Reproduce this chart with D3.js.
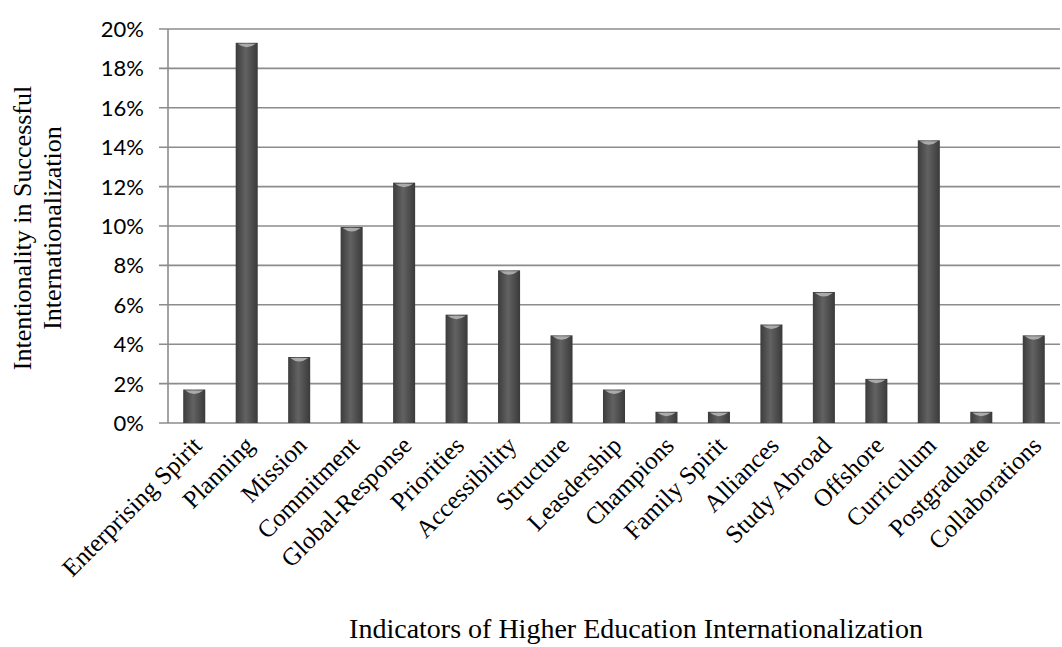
<!DOCTYPE html>
<html>
<head>
<meta charset="utf-8">
<script src="https://cdn.jsdelivr.net/npm/d3@7"></script>
<style>
  body { margin: 0; background: #fff; }
</style>
</head>
<body>
<div id="chart"></div>
<script>
// indicator names along the x axis
const indicators = ["Enterprising Spirit", "Planning", "Mission", "Commitment", "Global-Response",
    "Priorities", "Accessibility", "Structure", "Leasdership", "Champions", "Family Spirit",
    "Alliances", "Study Abroad", "Offshore", "Curriculum", "Postgraduate", "Collaborations"];
// share of intentionality, in percent
const shares = [1.7, 19.3, 3.35, 9.95, 12.2, 5.5, 7.75, 4.45, 1.7, 0.57, 0.57, 5.0, 6.65, 2.24, 14.35, 0.57, 4.45];
const yTicks = [0, 2, 4, 6, 8, 10, 12, 14, 16, 18, 20];

const W = 1062, H = 647;
const margin = { top: 29, right: 2, bottom: 224, left: 168 };
const width = W - margin.left - margin.right;
const height = H - margin.top - margin.bottom;

const svg = d3.select("#chart").append("svg")
    .attr("width", W)
    .attr("height", H);

// cylinder-ish shading for the bars
const defs = svg.append("defs");
const grad = defs.append("linearGradient").attr("id", "barGrad")
    .attr("x1", "0%").attr("x2", "100%").attr("y1", "0%").attr("y2", "0%");
grad.append("stop").attr("offset", "0%").attr("stop-color", "#3c3c3c");
grad.append("stop").attr("offset", "45%").attr("stop-color", "#626262");
grad.append("stop").attr("offset", "100%").attr("stop-color", "#3a3a3a");

const g = svg.append("g").attr("transform", `translate(${margin.left},${margin.top})`);

const x = d3.scaleBand().domain(indicators).range([0, width]).paddingInner(0.58).paddingOuter(0.29);
const y = d3.scaleLinear().domain([0, 20]).range([height, 0]);

// gridlines
g.append("g")
    .selectAll("line")
    .data(yTicks)
    .join("line")
    .attr("x1", -9)
    .attr("x2", width)
    .attr("y1", d => y(d))
    .attr("y2", d => y(d))
    .attr("stroke", "#8c8c8c")
    .attr("stroke-width", 1.6);

// y axis line
g.append("line")
    .attr("x1", 0).attr("x2", 0)
    .attr("y1", 0).attr("y2", height)
    .attr("stroke", "#8c8c8c")
    .attr("stroke-width", 1.6);

// y tick labels
g.append("g")
    .selectAll("text")
    .data(yTicks)
    .join("text")
    .attr("x", -24)
    .attr("y", d => y(d))
    .attr("dy", "0.36em")
    .attr("text-anchor", "end")
    .style("font-family", "Lato, 'Open Sans', sans-serif")
    .style("font-size", "22px")
    .text(d => d + "%");

// bars
const bars = g.append("g")
    .selectAll("g")
    .data(indicators)
    .join("g");

bars.append("rect")
    .attr("x", d => x(d))
    .attr("y", (d, i) => y(shares[i]))
    .attr("width", x.bandwidth())
    .attr("height", (d, i) => height - y(shares[i]))
    .attr("fill", "url(#barGrad)");

// light cap on top of each bar
bars.append("path")
    .attr("d", (d, i) => {
        const x0 = x(d), bw = x.bandwidth(), top = y(shares[i]);
        const capH = Math.min(6, (height - top) * 0.6);
        return `M${x0 + 2},${top + 1} L${x0 + bw - 2},${top + 1} Q${x0 + bw / 2},${top + capH + 2} ${x0 + 2},${top + 1} Z`;
    })
    .attr("fill", "#b8b8b8")
    .attr("opacity", 0.85);

// x labels, rotated
g.append("g")
    .selectAll("text")
    .data(indicators)
    .join("text")
    .attr("transform", d => `translate(${x(d) + x.bandwidth() / 2 + 9},${height + 24}) rotate(-45)`)
    .attr("text-anchor", "end")
    .style("font-family", "'Liberation Serif', 'Times New Roman', serif")
    .style("font-size", "25px")
    .text(d => d);

// y axis title
const yTitle = svg.append("text")
    .attr("transform", "translate(0,228) rotate(-90)")
    .attr("text-anchor", "middle")
    .style("font-family", "'Liberation Serif', 'Times New Roman', serif")
    .style("font-size", "26px");
yTitle.append("tspan").attr("x", 0).attr("y", 31).text("Intentionality in Successful");
yTitle.append("tspan").attr("x", 0).attr("y", 61).text("Internationalization");

// x axis title
svg.append("text")
    .attr("x", 636)
    .attr("y", 638)
    .attr("text-anchor", "middle")
    .style("font-family", "'Liberation Serif', 'Times New Roman', serif")
    .style("font-size", "28px")
    .text("Indicators of Higher Education Internationalization");
</script>
</body>
</html>
